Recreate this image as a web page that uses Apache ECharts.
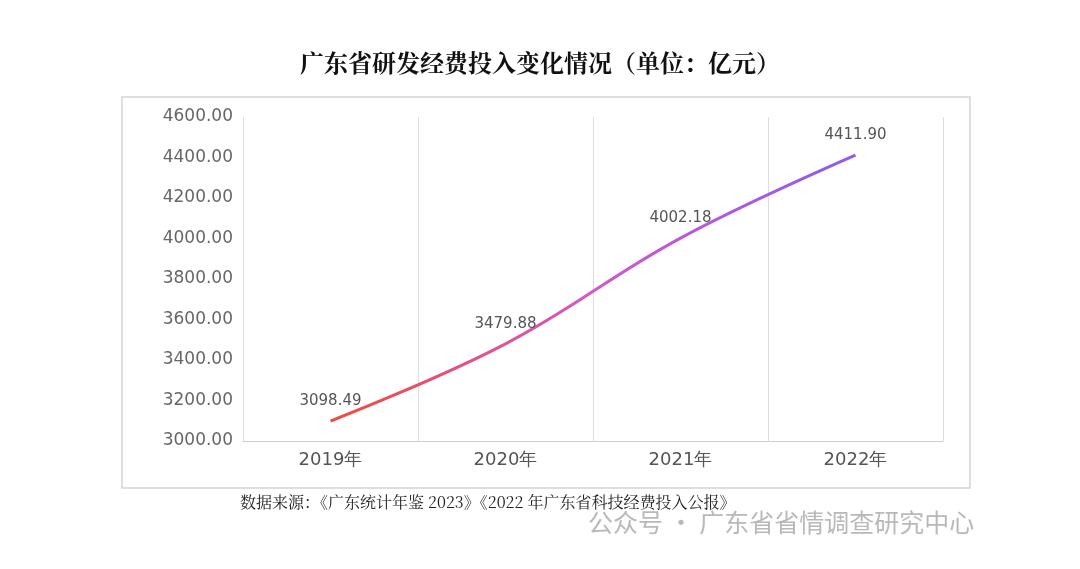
<!DOCTYPE html>
<html><head><meta charset="utf-8">
<script src="https://cdn.jsdelivr.net/npm/echarts@6/dist/echarts.min.js"></script>
<style>html,body{margin:0;padding:0;background:#fff}#c{width:1080px;height:569px}</style>
</head><body><div id="c"></div>
<script>
const categories = ['2019年','2020年','2021年','2022年'];
const values = [3098.49, 3479.88, 4002.18, 4411.90];
const labels = ['3098.49','3479.88','4002.18','4411.90'];
const chart = echarts.init(document.getElementById('c'));
chart.setOption({
  backgroundColor:'#fff',
  animation:false,
  title:{text:'广东省研发经费投入变化情况（单位：亿元）',left:'center',top:46,
    textStyle:{fontFamily:'Noto Serif CJK SC, Noto Sans CJK SC',fontWeight:'bold',fontSize:24,color:'#111'}},
  graphic:[
    {type:'rect',shape:{x:122,y:97,width:848,height:391},style:{fill:'none',stroke:'#d4d4d4',lineWidth:1.5}},
    {type:'text',left:240,top:494,style:{text:'数据来源：《广东统计年鉴 2023》《2022 年广东省科技经费投入公报》',font:'16px "Noto Serif CJK SC","Noto Sans CJK SC"',fill:'#222'}},
    {type:'text',left:588,top:510,style:{text:'公众号 · 广东省省情调查研究中心',font:'25px "Noto Sans CJK SC"',fill:'#b8b8b8'}}
  ],
  grid:{left:243,right:137,top:117,bottom:128},
  xAxis:{type:'category',data:categories,boundaryGap:true,
    axisLine:{lineStyle:{color:'#cfcfcf'}},axisTick:{show:false},
    axisLabel:{color:'#555',fontSize:18,margin:10,fontFamily:'DejaVu Sans'},
    splitLine:{show:true,lineStyle:{color:'#dedede'}}},
  yAxis:{type:'value',min:3000,max:4600,interval:200,
    axisLine:{show:false},axisTick:{show:false},splitLine:{show:false},
    axisLabel:{color:'#666',fontSize:17,margin:10,fontFamily:'DejaVu Sans',formatter:v=>v.toFixed(2)}},
  series:[{type:'line',data:values,smooth:0.4,symbol:'circle',symbolSize:0.1,showSymbol:true,
    itemStyle:{color:'rgba(0,0,0,0)'},
    lineStyle:{width:3,color:new echarts.graphic.LinearGradient(0,0,1,0,[{offset:0,color:'#f24a3a'},{offset:0.5,color:'#d457c9'},{offset:1,color:'#8b5cf0'}])},
    label:{show:true,position:'top',distance:12,color:'#555',fontSize:15,fontFamily:'DejaVu Sans',
      formatter:p=>labels[p.dataIndex]}}]
});
</script></body></html>
